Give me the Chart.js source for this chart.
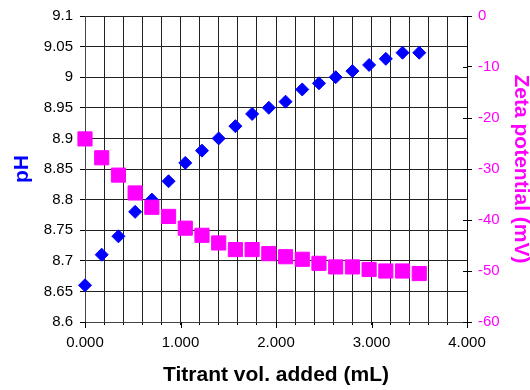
<!DOCTYPE html>
<html><head><meta charset="utf-8">
<script src="https://cdn.jsdelivr.net/npm/chart.js@4/dist/chart.umd.min.js"></script>
<style>html,body{margin:0;padding:0;background:#fff;}</style>
</head><body>
<canvas id="c" width="530" height="390" style="display:block;width:530px;height:390px"></canvas>
<script>
const volumes = [0, 0.175, 0.35, 0.525, 0.7, 0.875, 1.05, 1.225, 1.4, 1.575, 1.75, 1.925, 2.1, 2.275, 2.45, 2.625, 2.8, 2.975, 3.15, 3.325, 3.5];
const pHValues = [8.66, 8.71, 8.74, 8.78, 8.80, 8.83, 8.86, 8.88, 8.90, 8.92, 8.94, 8.95, 8.96, 8.98, 8.99, 9.00, 9.01, 9.02, 9.03, 9.04, 9.04];
const zetaValues = [-24.1, -27.8, -31.2, -34.7, -37.5, -39.3, -41.6, -43.0, -44.5, -45.8, -45.8, -46.6, -47.2, -47.7, -48.5, -49.2, -49.2, -49.7, -50.0, -50.0, -50.5];
const xTickValues = [0, 1, 2, 3, 4];
const pHTicks = [8.6, 8.65, 8.7, 8.75, 8.8, 8.85, 8.9, 8.95, 9, 9.05, 9.1];
const zetaTicks = [0, -10, -20, -30, -40, -50, -60];

const FONT = '"Liberation Sans", Arial, sans-serif';
const BLUE = '#0000FF';
const MAGENTA = '#FF00FF';

const pHPoints = volumes.map((v, i) => ({x: v, y: pHValues[i]}));
const zetaPoints = volumes.map((v, i) => ({x: v, y: zetaValues[i]}));

const extraTicks = {
  id: 'extraTicks',
  afterDraw(chart) {
    const ctx = chart.ctx;
    const y2 = chart.scales.y2;
    const x = chart.scales.x;
    ctx.save();
    ctx.strokeStyle = '#000';
    ctx.lineWidth = 1;
    zetaTicks.forEach(t => {
      const py = Math.round(y2.getPixelForValue(t)) + 0.5;
      ctx.beginPath();
      ctx.moveTo(y2.left - 4, py);
      ctx.lineTo(y2.left, py);
      ctx.stroke();
    });
    xTickValues.forEach(t => {
      const px = Math.round(x.getPixelForValue(t)) + 0.5;
      ctx.beginPath();
      ctx.moveTo(px, x.top);
      ctx.lineTo(px, x.top + 6);
      ctx.stroke();
    });
    ctx.restore();
  }
};

new Chart(document.getElementById('c'), {
  type: 'scatter',
  data: {
    datasets: [
      {
        label: 'pH',
        data: pHPoints,
        yAxisID: 'y',
        order: 1,
        pointStyle: 'rectRot',
        pointRadius: 6.5,
        borderWidth: 1,
        backgroundColor: BLUE,
        borderColor: BLUE,
        clip: false
      },
      {
        label: 'Zeta potential (mV)',
        data: zetaPoints,
        yAxisID: 'y2',
        order: 0,
        pointStyle: 'rect',
        pointRadius: 10,
        borderWidth: 1,
        backgroundColor: MAGENTA,
        borderColor: MAGENTA,
        clip: false
      }
    ]
  },
  options: {
    responsive: false,
    animation: false,
    events: [],
    layout: {padding: {top: 15, left: 0, right: 0, bottom: 0}},
    plugins: {legend: {display: false}, tooltip: {enabled: false}},
    scales: {
      x: {
        type: 'linear',
        position: 'bottom',
        min: 0, max: 4,
        afterFit(s) { s.height = 68; },
        afterBuildTicks(s) {
          const t = [];
          for (let i = 0; i <= 20; i++) t.push({value: i * 0.2});
          s.ticks = t;
        },
        ticks: {
          autoSkip: false,
          maxRotation: 0,
          padding: 9,
          color: '#000',
          font: {family: FONT, size: 15},
          callback: (v) => {
            const r = Math.round(v * 1000) / 1000;
            return xTickValues.includes(r) ? r.toFixed(3) : '';
          }
        },
        grid: {color: '#222', lineWidth: 1, tickLength: 3, tickColor: '#000'},
        border: {color: '#444', width: 1},
        title: {
          display: true,
          text: 'Titrant vol. added (mL)',
          color: '#000',
          font: {family: FONT, size: 21, weight: 'bold', lineHeight: 1.2},
          padding: {top: 0, bottom: 2}
        }
      },
      y: {
        type: 'linear',
        position: 'left',
        min: 8.6, max: 9.1,
        afterFit(s) { s.width = 85; },
        afterBuildTicks(s) { s.ticks = pHTicks.map(v => ({value: v})); },
        ticks: {
          padding: 7,
          color: '#000',
          font: {family: FONT, size: 15},
          callback: (v) => String(Math.round(v * 100) / 100)
        },
        grid: {color: '#222', lineWidth: 1, tickLength: 5, tickColor: '#000'},
        border: {color: '#444', width: 1},
        title: {
          display: true,
          text: 'pH',
          color: BLUE,
          font: {family: FONT, size: 21, weight: 'bold', lineHeight: 1.2},
          padding: {top: 10, bottom: 0}
        }
      },
      y2: {
        type: 'linear',
        position: 'right',
        min: -60, max: 0,
        afterFit(s) { s.width = 63; },
        afterBuildTicks(s) { s.ticks = zetaTicks.map(v => ({value: v})); },
        ticks: {
          padding: 6,
          color: MAGENTA,
          font: {family: FONT, size: 15},
          callback: (v) => String(v)
        },
        grid: {drawOnChartArea: false, tickLength: 5, tickColor: '#000'},
        border: {color: '#000', width: 1},
        title: {
          display: true,
          text: 'Zeta potential (mV)',
          color: MAGENTA,
          font: {family: FONT, size: 21, weight: 'bold', lineHeight: 0.85},
          padding: {top: 0, bottom: 0}
        }
      }
    }
  },
  plugins: [extraTicks]
});
</script>
</body></html>
